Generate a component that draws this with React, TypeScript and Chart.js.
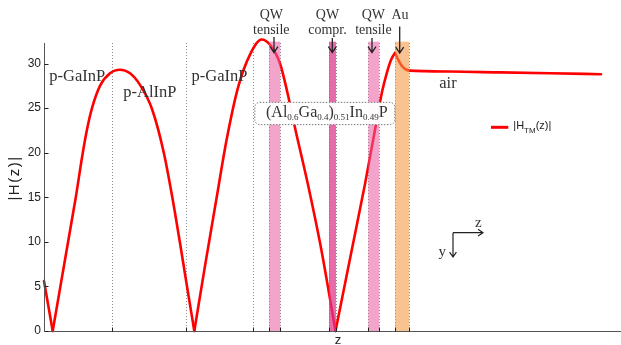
import React, { useEffect, useRef } from 'react';
import { Chart, registerables } from 'chart.js';

Chart.register(...registerables);

// position z along the structure (plot units) and the field magnitude |H_TM(z)|
const zValues = [
  0, 8.7,
  16.7, 24.7, 31.8, 38.5, 43, 48, 56, 66, 76, 86, 96, 108, 119.8, 128.3, 135.8, 143, 150.3,
  161, 172.7, 182.7, 194, 206, 217.7, 226, 236, 243.5, 251, 264, 277.7, 291.5,
  306, 321, 334, 338, 342.7, 347, 351,
  354.3, 357.7, 361, 365.3, 406, 456, 506, 557,
];
const hValues = [
  5.6, 0,
  5.2, 10.4, 15.0, 19.8, 22.6, 25.0, 27.5, 28.9, 29.3, 28.9, 27.6, 24.9, 20.0, 15.0, 10.0, 5.0, 0,
  7.3, 15.0, 21.5, 27.3, 31.0, 32.7, 32.1, 30.0, 26.7, 22.8, 16.4, 8.9, 0,
  8.1, 16.5, 24.4, 26.8, 28.9, 30.4, 31.2,
  30.4, 29.75, 29.4, 29.2, 29.1, 29.0, 28.9, 28.8,
];
const yTickValues = [0, 5, 10, 15, 20, 25, 30];
const layerBoundaries = [67.7, 141.7, 209.3, 225, 236.3, 285, 292, 324.3, 335.3, 351, 365.3];
const qwTensileA = [225, 236.3];
const qwCompr = [285, 292];
const qwTensileB = [324.3, 335.3];
const auLayer = [351, 365.3];
const barrierBox = [210.3, 350.3, 23.2, 25.7];
const zMax = 577;
const yMax = 32.3;
const bandTop = 32.45;
const seriesLabel = '|H_TM(z)|';

const SERIF = '"Liberation Serif", "Times New Roman", serif';
const SANS = '"Liberation Sans", Arial, Helvetica, sans-serif';

type Part = { t: string; sub?: boolean };

function drawRich(ctx: CanvasRenderingContext2D, parts: Part[], x: number, y: number, size: number, subSize: number, family: string, subShift: number) {
  let cx = x;
  for (const p of parts) {
    ctx.font = `${p.sub ? subSize : size}px ${family}`;
    ctx.fillText(p.t, cx, p.sub ? y + subShift : y);
    cx += ctx.measureText(p.t).width;
  }
  return cx;
}

function arrow(ctx: CanvasRenderingContext2D, x1: number, y1: number, x2: number, y2: number, head = 5) {
  const ang = Math.atan2(y2 - y1, x2 - x1);
  ctx.beginPath();
  ctx.moveTo(x1, y1);
  ctx.lineTo(x2, y2);
  ctx.moveTo(x2 - head * Math.cos(ang - 0.6), y2 - head * Math.sin(ang - 0.6));
  ctx.lineTo(x2, y2);
  ctx.lineTo(x2 - head * Math.cos(ang + 0.6), y2 - head * Math.sin(ang + 0.6));
  ctx.stroke();
}

// split the curve into arches at its zeros and at the Au interface (sharp corners there)
function buildSegments() {
  const segs: { x: number; y: number }[][] = [];
  let cur: { x: number; y: number }[] = [];
  zValues.forEach((z, i) => {
    const p = { x: z, y: hValues[i] };
    cur.push(p);
    const split = (hValues[i] === 0 || z === auLayer[0]) && i > 0 && i < zValues.length - 1;
    if (split) {
      segs.push(cur);
      cur = [p];
    }
  });
  if (cur.length > 1) segs.push(cur);
  return segs;
}

const overlayPlugin = {
  id: 'overlay',
  beforeDatasetsDraw(chart: any) {
    const { ctx, chartArea: a, scales } = chart;
    const xs = scales.x;
    ctx.save();
    ctx.strokeStyle = '#8c8c8c';
    ctx.lineWidth = 1;
    ctx.setLineDash([1, 2]);
    for (const b of layerBoundaries) {
      const px = Math.round(xs.getPixelForValue(b)) + 0.5;
      ctx.beginPath();
      ctx.moveTo(px, a.top);
      ctx.lineTo(px, a.bottom);
      ctx.stroke();
    }
    ctx.restore();
  },
  afterDatasetsDraw(chart: any) {
    const { ctx, chartArea: a, scales } = chart;
    const xs = scales.x;
    const ys = scales.y;
    const X = (v: number) => xs.getPixelForValue(v);
    const Y = (v: number) => ys.getPixelForValue(v);
    ctx.save();

    // layer bands
    const top = Y(bandTop);
    const band = (r: number[], color: string) => {
      ctx.fillStyle = color;
      ctx.fillRect(X(r[0]), top, X(r[1]) - X(r[0]), a.bottom - top);
    };
    band(qwTensileA, 'rgba(232, 90, 160, 0.55)');
    band(qwTensileB, 'rgba(232, 90, 160, 0.55)');
    band(qwCompr, 'rgba(222, 50, 135, 0.72)');
    band(auLayer, 'rgba(245, 150, 65, 0.58)');

    // barrier label box
    const bx0 = X(barrierBox[0]);
    const bx1 = X(barrierBox[1]);
    const by0 = Y(barrierBox[3]);
    const by1 = Y(barrierBox[2]);
    ctx.beginPath();
    (ctx as any).roundRect(bx0 + 0.5, by0 + 0.5, bx1 - bx0, by1 - by0, 5);
    ctx.fillStyle = 'rgba(255,255,255,0.96)';
    ctx.fill();
    ctx.setLineDash([1.5, 1.5]);
    ctx.strokeStyle = '#777';
    ctx.lineWidth = 1;
    ctx.stroke();
    ctx.setLineDash([]);

    ctx.fillStyle = '#333';
    ctx.textBaseline = 'alphabetic';
    ctx.textAlign = 'left';
    drawRich(ctx, [
      { t: '(Al' }, { t: '0.6', sub: true }, { t: 'Ga' }, { t: '0.4', sub: true }, { t: ')' },
      { t: '0.51', sub: true }, { t: 'In' }, { t: '0.49', sub: true }, { t: 'P' },
    ], X(222), Y(24.04), 16, 9, SERIF, 3);

    // layer labels
    ctx.font = `16.5px ${SERIF}`;
    ctx.fillText('p-GaInP', X(5.3), Y(28.04));
    ctx.fillText('p-AlInP', X(79.3), Y(26.24));
    ctx.fillText('p-GaInP', X(147.5), Y(28.04));
    ctx.fillText('air', X(395.3), Y(27.25));

    ctx.textAlign = 'center';
    ctx.font = `14px ${SERIF}`;
    const qw = (z: number, second: string) => {
      ctx.fillText('QW', X(z), 19);
      ctx.fillText(second, X(z), 34);
    };
    qw(227.3, 'tensile');
    qw(283.5, 'compr.');
    qw(329.4, 'tensile');
    ctx.fillText('Au', X(356), 19);

    // arrows
    ctx.strokeStyle = '#222';
    ctx.lineWidth = 1.3;
    arrow(ctx, X(230), 37, X(230), 52.5, 7);
    arrow(ctx, X(288.3), 38, X(288.3), 52.5, 7);
    arrow(ctx, X(328), 38, X(328), 52.5, 7);
    arrow(ctx, X(355.7), 26.5, X(355.7), 53, 7);

    // axes
    ctx.strokeStyle = '#555';
    ctx.lineWidth = 1;
    const ax = Math.round(a.left) + 0.5;
    const ay = Math.round(a.bottom) + 0.5;
    ctx.beginPath();
    ctx.moveTo(ax, a.top);
    ctx.lineTo(ax, ay);
    ctx.lineTo(a.right, ay);
    ctx.stroke();
    ctx.strokeStyle = '#222';
    for (const v of yTickValues) {
      const py = Math.round(Y(v)) + 0.5;
      ctx.beginPath();
      ctx.moveTo(ax, py);
      ctx.lineTo(ax + 4, py);
      ctx.stroke();
    }
    for (const b of layerBoundaries) {
      const px = Math.round(X(b)) + 0.5;
      ctx.beginPath();
      ctx.moveTo(px, ay);
      ctx.lineTo(px, ay - 4);
      ctx.stroke();
    }

    // axis titles
    ctx.fillStyle = '#222';
    ctx.textAlign = 'center';
    ctx.font = `13px ${SANS}`;
    ctx.fillText('z', 338, 344);
    ctx.save();
    ctx.translate(19, 178);
    ctx.rotate(-Math.PI / 2);
    ctx.font = `15px ${SANS}`;
    (ctx as any).letterSpacing = '1.5px';
    ctx.fillText('|H(z)|', 0, 0);
    ctx.restore();

    // legend
    const ds = chart.data.datasets[0];
    ctx.strokeStyle = ds.borderColor;
    ctx.lineWidth = 3;
    ctx.beginPath();
    ctx.moveTo(491, 127.3);
    ctx.lineTo(508.3, 127.3);
    ctx.stroke();
    ctx.fillStyle = '#222';
    ctx.textAlign = 'left';
    const [pre, rest] = seriesLabel.split('_');
    const subPart = rest.slice(0, 2);
    const post = rest.slice(2);
    drawRich(ctx, [{ t: pre }, { t: subPart, sub: true }, { t: post }], 513.3, 128.5, 11, 8, SANS, 4);

    // coordinate glyph
    ctx.strokeStyle = '#222';
    ctx.lineWidth = 1.2;
    arrow(ctx, 453, 232.7, 483, 232.7, 6);
    arrow(ctx, 453, 232.7, 453, 257, 6);
    ctx.fillStyle = '#333';
    ctx.font = `15px ${SERIF}`;
    ctx.fillText('z', 475, 227);
    ctx.fillText('y', 438.5, 256);

    ctx.restore();
  },
};

export default function App() {
  const canvasRef = useRef<HTMLCanvasElement | null>(null);

  useEffect(() => {
    const canvas = canvasRef.current;
    if (!canvas) return;
    const datasets = buildSegments().map((seg) => ({
      label: seriesLabel,
      data: seg,
      borderColor: '#ff0000',
      borderWidth: 2.6,
      pointRadius: 0,
      cubicInterpolationMode: 'monotone' as const,
      fill: false,
      clip: false as any,
      borderJoinStyle: 'round' as const,
      borderCapStyle: 'round' as const,
    }));
    const chart = new Chart(canvas, {
      type: 'line',
      data: { datasets },
      options: {
        animation: false,
        responsive: true,
        maintainAspectRatio: false,
        devicePixelRatio: 1,
        layout: { padding: { left: 0, right: 0, top: 43, bottom: 14 } },
        plugins: { legend: { display: false }, tooltip: { enabled: false }, title: { display: false } },
        scales: {
          x: {
            type: 'linear',
            display: false,
            min: 0,
            max: zMax,
          },
          y: {
            type: 'linear',
            min: 0,
            max: yMax,
            afterFit: (s: any) => {
              s.width = 44;
            },
            afterBuildTicks: (s: any) => {
              s.ticks = yTickValues.map((v) => ({ value: v }));
            },
            grid: { display: false, drawTicks: false },
            border: { display: false },
            ticks: {
              padding: 3,
              color: '#222',
              font: { family: SANS, size: 12 },
            },
          },
        },
      },
      plugins: [overlayPlugin],
    });
    return () => chart.destroy();
  }, []);

  return (
    <div style={{ position: 'fixed', left: 0, top: 0, width: 621, height: 345, background: '#fff' }}>
      <canvas ref={canvasRef} style={{ display: 'block' }} />
    </div>
  );
}
